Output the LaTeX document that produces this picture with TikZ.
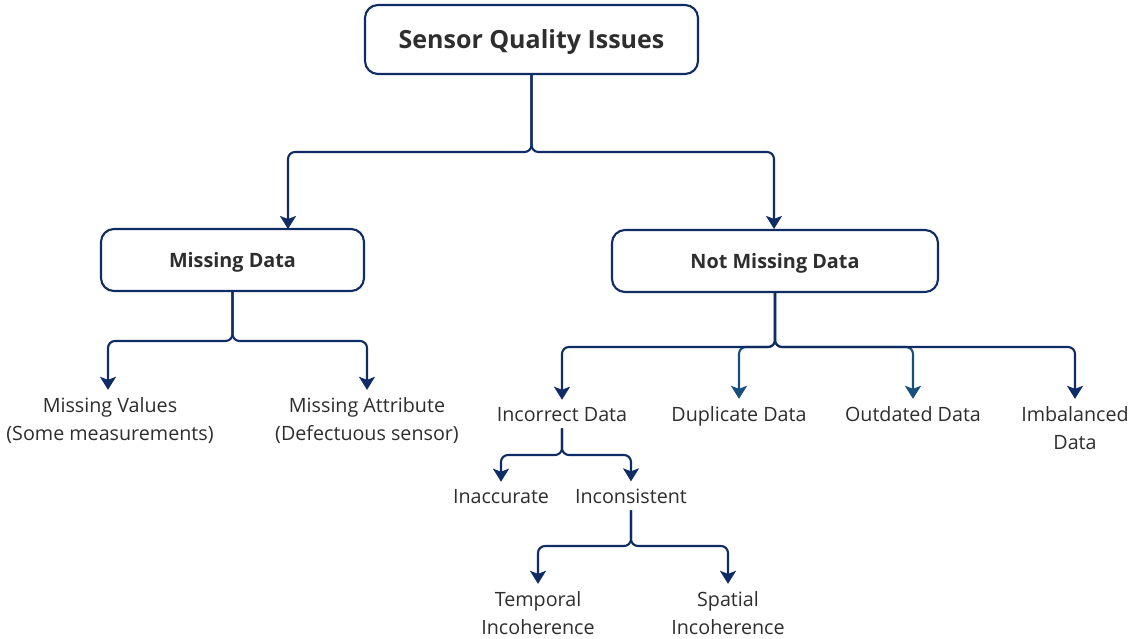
\documentclass[tikz,border=0pt]{standalone}
\usepackage{fontspec}
\setmainfont{Open Sans}
\usetikzlibrary{arrows.meta}
\definecolor{navy}{HTML}{102C64}
\definecolor{tealblue}{HTML}{17507A}
\definecolor{ink}{HTML}{2E2E2E}
\begin{document}
\begin{tikzpicture}[x=1pt,y=-1pt,
  box/.style={draw=navy, line width=2.1pt, rounded corners=13pt, fill=white,
    text=ink, font=\fontsize{19.8}{23}\selectfont\bfseries, inner sep=0pt,
    text depth=0pt},
  leaf/.style={text=ink, font=\fontsize{19.7}{28}\selectfont, align=center,
    inner xsep=0pt, inner ysep=7pt, anchor=base},
  link/.style={draw=navy, line width=2.1pt, rounded corners=7pt,
    -{Stealth[length=13pt,width=16pt,inset=3pt]}},
  tlink/.style={link, draw=tealblue}]
\path[use as bounding box, fill=white] (0,0) rectangle (1139,639);

% top level
\node[box, minimum width=333pt, minimum height=69pt,
  font=\fontsize{25}{29}\selectfont\bfseries] (root) at (531.5,39.5) {Sensor Quality Issues};
\node[box, minimum width=263pt, minimum height=62pt] (md) at (232.5,260) {Missing Data};
\node[box, minimum width=326pt, minimum height=62pt] (nmd) at (775,261) {Not Missing Data};

% leaves of "Missing Data" (anchored on the baseline of the last line)
\node[leaf] (mv) at (110,440) {Missing Values\\(Some measurements)};
\node[leaf] (ma) at (367,440) {Missing Attribute\\(Defectuous sensor)};

% leaves of "Not Missing Data"
\node[leaf] (inc) at (562,421) {Incorrect Data};
\node[leaf] (dup) at (739,421) {Duplicate Data};
\node[leaf] (out) at (913,421) {Outdated Data};
\node[leaf] (imb) at (1075,449) {Imbalanced\\Data};

% kinds of incorrect data
\node[leaf] (ina) at (501,503) {Inaccurate};
\node[leaf] (ins) at (631,503) {Inconsistent};

% kinds of inconsistency
\node[leaf] (tmp) at (538,634) {Temporal\\Incoherence};
\node[leaf] (spa) at (728,634) {Spatial\\Incoherence};

% connectors
\draw[link] (root.south) |- (288,152) -- (288,229);
\draw[link] (root.south) |- (774,152) -- (nmd.north -| 774,0);

\draw[link] (md.south) |- (108,341) -- (mv.north -| 108,0);
\draw[link] (md.south) |- (367,341) -- (ma.north);

\draw[tlink] (nmd.south) |- (739,347) -- (dup.north);
\draw[tlink] (nmd.south) |- (913,347) -- (out.north);
\draw[link] (nmd.south) |- (562,347) -- (inc.north);
\draw[link] (nmd.south) |- (1075,347) -- (imb.north);

\draw[link] (inc.south) |- (501,455) -- (ina.north);
\draw[link] (inc.south) |- (631,455) -- (ins.north);

\draw[link] (ins.south) |- (538,546) -- (tmp.north);
\draw[link] (ins.south) |- (728,546) -- (spa.north);
\end{tikzpicture}
\end{document}
